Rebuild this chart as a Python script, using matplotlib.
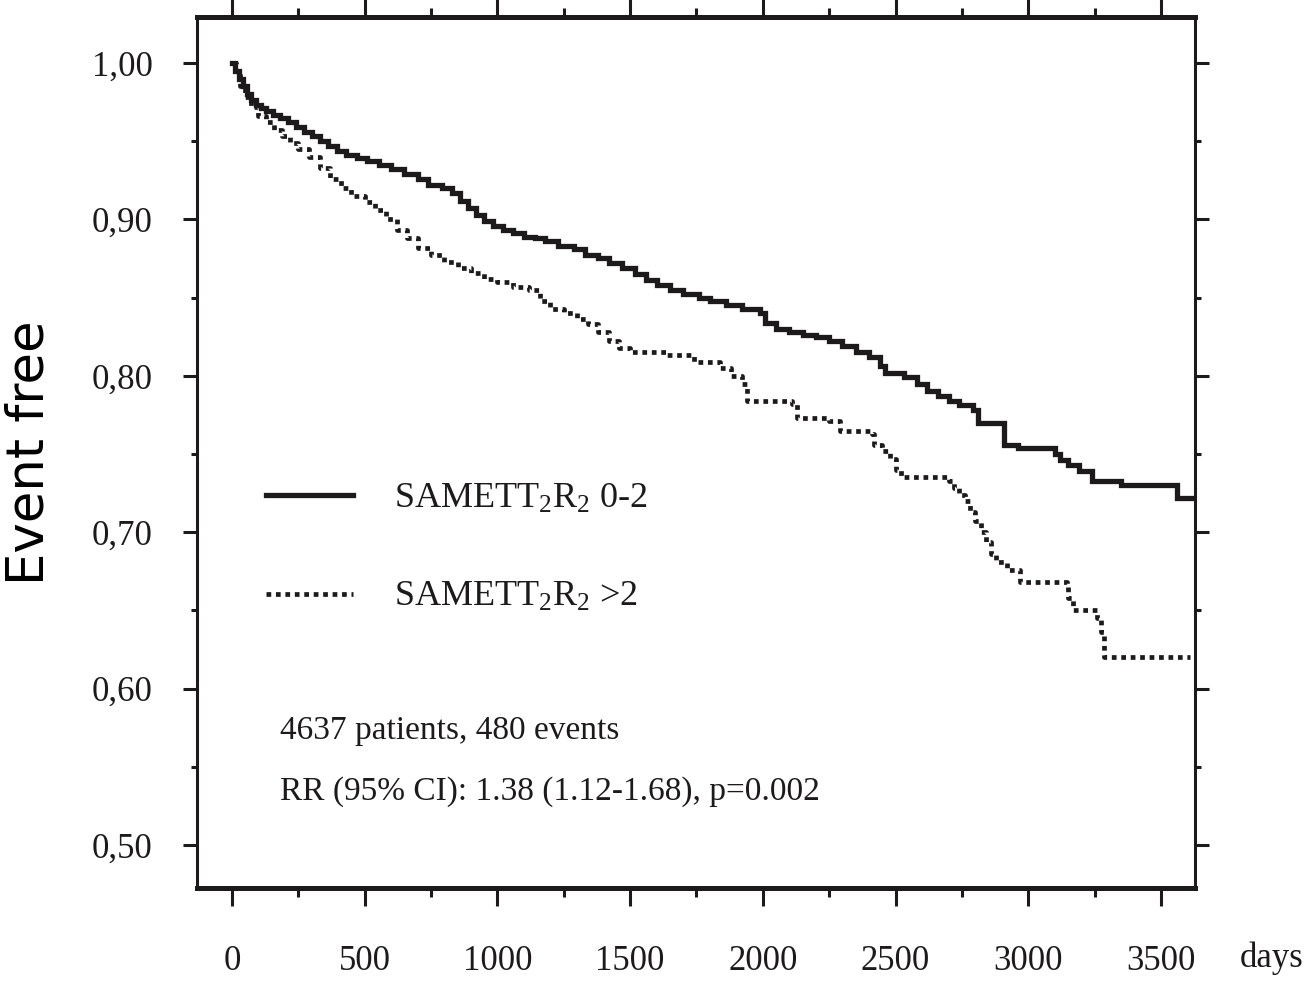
import numpy as np
import matplotlib
matplotlib.use('Agg')
import matplotlib.pyplot as plt
from matplotlib.ticker import MultipleLocator, FuncFormatter

plt.rcParams['font.family'] = 'Liberation Serif'
plt.rcParams['mathtext.fontset'] = 'custom'
plt.rcParams['mathtext.rm'] = 'Liberation Serif'
plt.rcParams['mathtext.it'] = 'Liberation Serif:italic'

ink = '#1c1a1b'

# %% Kaplan-Meier curves (days, event-free fraction)
low_days = [0, 10, 25, 40, 55, 70, 90, 110, 130, 155, 180, 210, 240, 270,
            300, 330, 360, 395, 430, 470, 510, 555, 600, 650, 700, 740, 790,
            830, 860, 890, 920, 950, 985, 1020, 1060, 1100, 1140, 1180, 1230,
            1290, 1330, 1380, 1420, 1470, 1520, 1560, 1600, 1650, 1700, 1760,
            1800, 1860, 1920, 1990, 2010, 2050, 2100, 2150, 2200, 2250, 2300,
            2350, 2400, 2440, 2460, 2530, 2580, 2620, 2660, 2700, 2740, 2790,
            2810, 2910, 2960, 3100, 3120, 3150, 3190, 3240, 3350, 3560, 3628]
low_surv = [1.000, 0.995, 0.990, 0.985, 0.980, 0.976, 0.973, 0.971, 0.969,
            0.967, 0.965, 0.962, 0.959, 0.956, 0.953, 0.950, 0.947, 0.944,
            0.941, 0.939, 0.937, 0.935, 0.932, 0.929, 0.926, 0.922, 0.920,
            0.917, 0.912, 0.907, 0.903, 0.899, 0.896, 0.893, 0.891, 0.889,
            0.888, 0.886, 0.883, 0.881, 0.877, 0.875, 0.872, 0.869, 0.865,
            0.861, 0.858, 0.855, 0.852, 0.850, 0.848, 0.845, 0.843, 0.840,
            0.834, 0.830, 0.828, 0.826, 0.825, 0.822, 0.819, 0.815, 0.812,
            0.806, 0.802, 0.799, 0.795, 0.790, 0.787, 0.784, 0.781, 0.778,
            0.770, 0.756, 0.754, 0.750, 0.746, 0.743, 0.739, 0.733, 0.730,
            0.722, 0.722]

high_days = [0, 15, 30, 50, 70, 100, 130, 160, 190, 220, 250, 290, 330, 370,
             410, 450, 500, 540, 580, 620, 660, 700, 750, 800, 850, 900, 950,
             1000, 1060, 1120, 1160, 1200, 1250, 1300, 1340, 1380, 1420, 1460,
             1500, 1640, 1740, 1840, 1880, 1920, 1940, 2110, 2130, 2250, 2290,
             2410, 2420, 2450, 2480, 2500, 2520, 2700, 2720, 2740, 2760, 2780,
             2800, 2820, 2840, 2860, 2880, 2920, 2970, 3145, 3150, 3170, 3260,
             3275, 3285, 3610]
high_surv = [1.000, 0.992, 0.985, 0.978, 0.972, 0.966, 0.962, 0.957, 0.953,
             0.949, 0.945, 0.940, 0.933, 0.926, 0.920, 0.915, 0.911, 0.906,
             0.900, 0.893, 0.888, 0.882, 0.877, 0.873, 0.869, 0.866, 0.862,
             0.860, 0.857, 0.855, 0.848, 0.843, 0.840, 0.836, 0.833, 0.828,
             0.822, 0.818, 0.815, 0.813, 0.809, 0.805, 0.800, 0.795, 0.784,
             0.782, 0.773, 0.771, 0.765, 0.763, 0.756, 0.752, 0.747, 0.740,
             0.735, 0.733, 0.728, 0.724, 0.720, 0.713, 0.707, 0.700, 0.694,
             0.686, 0.681, 0.676, 0.668, 0.665, 0.658, 0.650, 0.645, 0.636,
             0.620, 0.620]

labels = [r'SAMET$\mathrm{T}_2\mathrm{R}_2$ 0-2', r'SAMET$\mathrm{T}_2\mathrm{R}_2$ >2']
stats_lines = ['4637 patients, 480 events',
               'RR (95% CI): 1.38 (1.12-1.68), p=0.002']

# %% figure
fig = plt.figure(figsize=(13.04, 9.81), dpi=100)
ax = fig.add_axes([0.151, 0.0948, 0.7654, 0.8879])

l1, = ax.plot(low_days, low_surv, drawstyle='steps-post', color=ink, lw=3.8,
              solid_joinstyle='miter')
l2, = ax.plot(high_days, high_surv, drawstyle='steps-post', color=ink, lw=3.4,
              linestyle=(0, (1, 1.0)), dash_capstyle='butt')

ax.set_xlim(-132, 3628)
ax.set_ylim(0.4725, 1.0294)

ax.xaxis.set_major_locator(MultipleLocator(500))
ax.xaxis.set_minor_locator(MultipleLocator(250))
ax.yaxis.set_major_locator(MultipleLocator(0.1))
ax.yaxis.set_minor_locator(MultipleLocator(0.05))
ax.yaxis.set_major_formatter(FuncFormatter(lambda v, p: f'{v:.2f}'.replace('.', ',')))

ax.tick_params(which='both', direction='out', top=True, right=True,
               color=ink, width=2.2, labelcolor=ink, labelsize=25)
ax.tick_params(axis='x', which='major', length=13, pad=28)
ax.tick_params(axis='x', which='minor', length=6.5)
ax.tick_params(axis='y', which='major', length=10, pad=22)
ax.tick_params(axis='y', which='minor', length=4.5)

for side in ['top', 'bottom']:
    ax.spines[side].set_linewidth(3.6)
for side in ['left', 'right']:
    ax.spines[side].set_linewidth(2.2)
for sp in ax.spines.values():
    sp.set_color(ink)

ax.set_ylabel('Event free', family='DejaVu Sans', fontsize=37, color='black')
ax.yaxis.set_label_coords(-0.143, 0.5)

fig.text(0.975, 0.006, 'days', fontsize=25, color=ink, ha='center', va='bottom')

ax.legend([l1, l2], labels, loc='upper left', bbox_to_anchor=(0.055, 0.482),
          frameon=False, fontsize=26, handlelength=2.4, handletextpad=1.15,
          labelspacing=1.8, borderaxespad=0, labelcolor=ink)

ax.text(0.083, 0.180, stats_lines[0], transform=ax.transAxes, fontsize=24,
        color=ink, va='center')
ax.text(0.083, 0.111, stats_lines[1], transform=ax.transAxes, fontsize=24,
        color=ink, va='center')

fig.savefig('out.png', dpi=100)
